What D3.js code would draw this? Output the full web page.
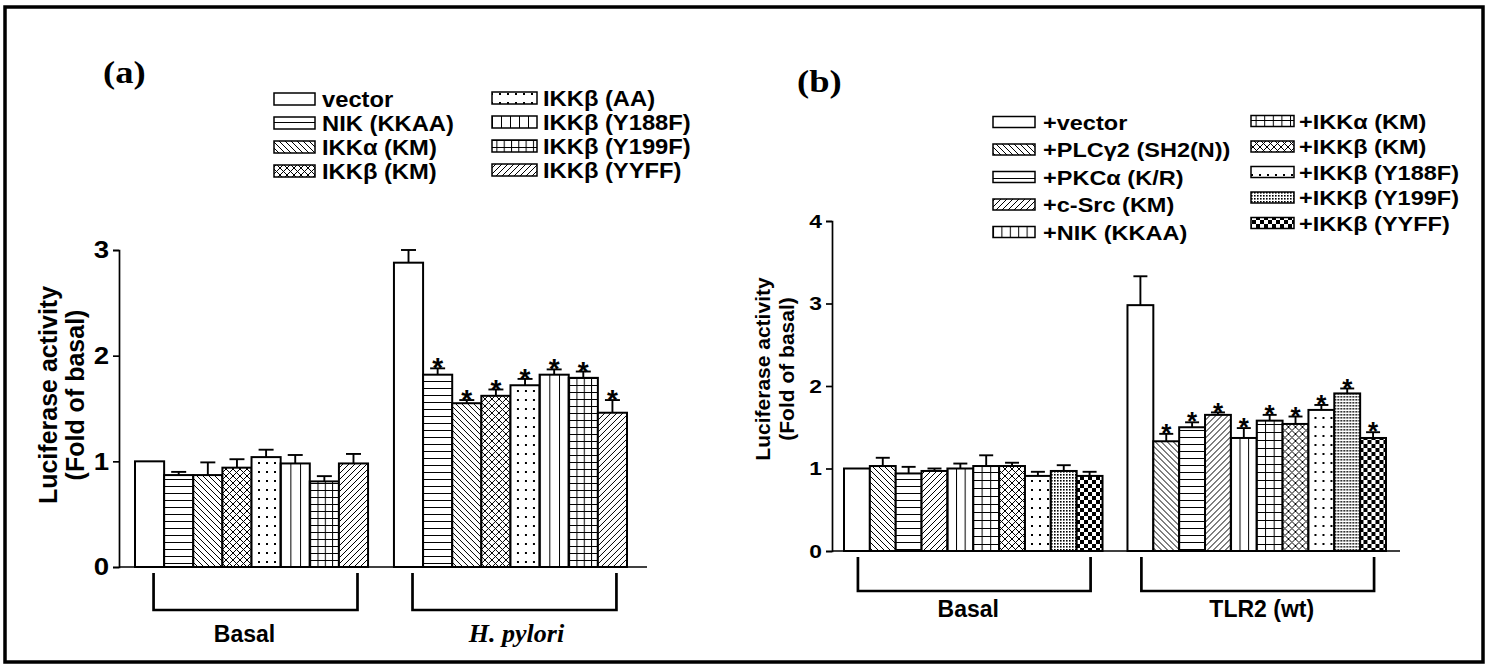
<!DOCTYPE html>
<html>
<head>
<meta charset="utf-8">
<script src="https://cdn.jsdelivr.net/npm/d3@7"></script>
<style>
  body { margin: 0; background: #fff; }
  svg { display: block; }
  text { font-family: "Liberation Sans", Arial, sans-serif; font-weight: bold; fill: #000; }
</style>
</head>
<body>
<svg id="fig" width="1490" height="668"></svg>
<script>
// ---- panel (a) data ----
const groupsA = ['Basal', 'H. pylori'];
const seriesA = ['vector', 'NIK (KKAA)', 'IKKα (KM)', 'IKKβ (KM)', 'IKKβ (AA)', 'IKKβ (Y188F)', 'IKKβ (Y199F)', 'IKKβ (YYFF)'];
const basalA = [1.00, 0.87, 0.87, 0.94, 1.04, 0.98, 0.81, 0.98];
const basalAErr = [0.00, 0.03, 0.12, 0.08, 0.07, 0.08, 0.05, 0.09];
const pyloriA = [2.88, 1.82, 1.55, 1.62, 1.72, 1.82, 1.79, 1.46];
const pyloriAErr = [0.12, 0.06, 0.03, 0.06, 0.06, 0.05, 0.06, 0.12];
const starsA = [[], [1, 2, 3, 4, 5, 6, 7]];
const ticksA = [0, 1, 2, 3];

// ---- panel (b) data ----
const groupsB = ['Basal', 'TLR2 (wt)'];
const seriesB = ['+vector', '+PLCγ2 (SH2(N))', '+PKCα (K/R)', '+c-Src (KM)', '+NIK (KKAA)', '+IKKα (KM)', '+IKKβ (KM)', '+IKKβ (Y188F)', '+IKKβ (Y199F)', '+IKKβ (YYFF)'];
const basalB = [1.00, 1.03, 0.94, 0.97, 1.00, 1.03, 1.03, 0.91, 0.97, 0.91];
const basalBErr = [0.00, 0.10, 0.08, 0.03, 0.06, 0.13, 0.04, 0.05, 0.07, 0.05];
const tlr2B = [2.98, 1.33, 1.50, 1.65, 1.37, 1.58, 1.54, 1.71, 1.91, 1.37];
const tlr2BErr = [0.35, 0.09, 0.06, 0.03, 0.12, 0.07, 0.09, 0.06, 0.06, 0.07];
const starsB = [[], [1, 2, 3, 4, 5, 6, 7, 8, 9]];
const ticksB = [0, 1, 2, 3, 4];

// fill styles per series
const fillsA = ['none', 'hlines', 'bdiag', 'cross', 'dots', 'vlines', 'grid', 'fdiag'];
const fillsB = ['none', 'bdiag', 'hlines', 'fdiag', 'vlines', 'grid8', 'cross', 'dots', 'fine', 'checker'];

const svg = d3.select('#fig');
const defs = svg.append('defs');

// pattern helper
function pattern(id, w, h, draw, bbox) {
    const p = defs.append('pattern')
        .attr('id', id)
        .attr('patternUnits', bbox ? 'objectBoundingBox' : 'userSpaceOnUse')
        .attr('width', w)
        .attr('height', h);
    p.append('rect').attr('width', 1000).attr('height', 1000).attr('fill', '#fff');
    draw(p);
}
const ln = (p, d, sw) => p.append('path').attr('d', d).attr('stroke', '#000').attr('stroke-width', sw || 1).attr('fill', 'none');

pattern('hlines', 7, 7, p => ln(p, 'M0,3.5H7'));
pattern('bdiag', 6, 6, p => ln(p, 'M0,0L6,6M-1,5L1,7M5,-1L7,1'));
pattern('fdiag', 6, 6, p => ln(p, 'M0,6L6,0M-1,1L1,-1M5,7L7,5'));
pattern('cross', 7, 7, p => ln(p, 'M0,0L7,7M-1,6L1,8M6,-1L8,1M0,7L7,0M-1,1L1,-1M6,8L8,6'));
pattern('dots', 8, 9, p => p.append('rect').attr('x', 3).attr('y', 3).attr('width', 2).attr('height', 2).attr('fill', '#000'));
pattern('grid', 7.3, 7, p => ln(p, 'M0.5,0V7M0,0.5H7.3'));
pattern('grid8', 8.6, 8, p => ln(p, 'M0.5,0V8M0,0.5H8.6'));
pattern('fine', 3, 3, p => p.append('rect').attr('width', 1.6).attr('height', 1.6).attr('fill', '#000'));
pattern('checker', 8, 8, p => {
    p.append('rect').attr('width', 4).attr('height', 4).attr('fill', '#000');
    p.append('rect').attr('x', 4).attr('y', 4).attr('width', 4).attr('height', 4).attr('fill', '#000');
});
pattern('vlines', 1 / 3, 1, p => ln(p, 'M0.5,0V1000'), true);
pattern('vlinesL', 1 / 5, 1, p => ln(p, 'M0.5,0V1000'), true);

const fillOf = (k, legend) => k === 'none' ? '#fff' : 'url(#' + (legend && k === 'vlines' ? 'vlinesL' : k) + ')';

// text helper (sx stretches horizontally like the scanned figure)
function txt(x, y, s, size, opt) {
    opt = opt || {};
    const t = svg.append('text')
        .attr('transform', opt.rot ? `translate(${x},${y}) rotate(${opt.rot})`
            : `translate(${x},${y}) scale(${opt.sx || 1},1)`)
        .attr('font-size', size)
        .attr('text-anchor', opt.anchor || 'start')
        .text(s);
    if (opt.dy) t.attr('dy', opt.dy);
    if (opt.family) t.style('font-family', opt.family);
    if (opt.italic) t.style('font-style', 'italic');
    return t;
}

// outer frame
svg.append('rect').attr('x', 5).attr('y', 7).attr('width', 1478).attr('height', 655)
    .attr('fill', 'none').attr('stroke', '#000').attr('stroke-width', 3.5);

function drawPanel(cfg) {
    const y = d3.scaleLinear().domain([0, cfg.ticks[cfg.ticks.length - 1]]).range([cfg.y0, cfg.yTop]);
    const xg = d3.scaleBand().domain(cfg.groups).range(cfg.barsX).paddingInner(cfg.pad);
    const xs = d3.scaleBand().domain(d3.range(cfg.series.length)).range([0, xg.bandwidth()]);

    // y axis
    const ax = svg.append('g')
        .attr('transform', `translate(${cfg.yX},0)`)
        .call(d3.axisLeft(y).tickValues(cfg.ticks).tickSizeOuter(0).tickSize(6).tickPadding(4).tickFormat(d3.format('d')));
    ax.select('.domain').attr('stroke-width', 1.7);
    ax.selectAll('.tick line').attr('stroke-width', 1.7);
    ax.selectAll('text')
        .attr('font-size', cfg.tickFont)
        .style('font-family', '"Liberation Sans", Arial, sans-serif')
        .style('font-weight', 'bold')
        .attr('x', -10 / cfg.tickSx)
        .attr('transform', `scale(${cfg.tickSx},1)`);

    // bars
    cfg.groups.forEach((gName, gi) => {
        const vals = cfg.values[gi], errs = cfg.errors[gi];
        const g = svg.append('g').attr('transform', `translate(${xg(gName)},0)`);
        g.selectAll('rect.bar').data(vals).join('rect')
            .attr('class', 'bar')
            .attr('x', (d, i) => xs(i))
            .attr('y', d => y(d))
            .attr('width', xs.bandwidth())
            .attr('height', d => y(0) - y(d))
            .attr('fill', (d, i) => fillOf(cfg.fills[i]))
            .attr('stroke', '#000')
            .attr('stroke-width', 2);
        // error bars (upper only)
        const eb = g.selectAll('g.err').data(vals.map((v, i) => ({ v, e: errs[i], i })).filter(d => d.e > 0)).join('g');
        eb.append('line')
            .attr('x1', d => xs(d.i) + xs.bandwidth() / 2).attr('x2', d => xs(d.i) + xs.bandwidth() / 2)
            .attr('y1', d => y(d.v)).attr('y2', d => y(d.v + d.e))
            .attr('stroke', '#000').attr('stroke-width', 1.9);
        eb.append('line')
            .attr('x1', d => xs(d.i) + xs.bandwidth() / 2 - cfg.capW / 2)
            .attr('x2', d => xs(d.i) + xs.bandwidth() / 2 + cfg.capW / 2)
            .attr('y1', d => y(d.v + d.e)).attr('y2', d => y(d.v + d.e))
            .attr('stroke', '#000').attr('stroke-width', 1.9);
        // significance stars
        g.selectAll('text.star').data(cfg.stars[gi]).join('text')
            .attr('class', 'star')
            .attr('x', i => xs(i) + xs.bandwidth() / 2)
            .attr('y', i => y(vals[i] + errs[i]) - 3 + 0.43 * cfg.starFont)
            .attr('text-anchor', 'middle')
            .attr('font-size', cfg.starFont)
            .text('*');

        // bracket + group label
        const c0 = xg(gName) + xs(0) + xs.bandwidth() / 2 + cfg.bracketOff;
        const c1 = xg(gName) + xs(vals.length - 1) + xs.bandwidth() / 2 + cfg.bracketOff;
        svg.append('path')
            .attr('d', `M${c0},${cfg.bracketTop}V${cfg.bracketBot}H${c1}V${cfg.bracketTop}`)
            .attr('fill', 'none').attr('stroke', '#000').attr('stroke-width', 2.7);
        const lab = cfg.labels[gi];
        txt((c0 + c1) / 2 + lab.dx, cfg.labelY, gName, lab.size, { anchor: 'middle', family: lab.family, italic: lab.italic });
    });

    // x axis baseline
    svg.append('line')
        .attr('x1', cfg.yX).attr('x2', cfg.barsX[1] + cfg.axisExtra)
        .attr('y1', y(0)).attr('y2', y(0))
        .attr('stroke', '#000').attr('stroke-width', 1.7);

    // y label
    txt(cfg.ylabX[0], cfg.ylabY, 'Luciferase activity', cfg.ylabFont, { rot: -90, anchor: 'middle', dy: '0.35em' });
    txt(cfg.ylabX[1], cfg.ylabY, '(Fold of basal)', cfg.ylabFont, { rot: -90, anchor: 'middle', dy: '0.35em' });

    // panel letter
    txt(cfg.title.x, cfg.title.y, cfg.title.text, 31, { sx: 1.18, family: '"Liberation Serif", "Times New Roman", serif' });

    // legend
    cfg.legendCols.forEach(col => {
        col.items.forEach((idx, r) => {
            const cy = col.y0 + r * col.step;
            svg.append('rect')
                .attr('x', col.x).attr('y', cy - col.h / 2)
                .attr('width', col.w).attr('height', col.h)
                .attr('fill', fillOf(cfg.fills[idx], true))
                .attr('stroke', '#000').attr('stroke-width', 1.5);
            txt(col.tx, cy + cfg.legendFont * 0.36, cfg.series[idx], cfg.legendFont, { sx: cfg.legendSx });
        });
    });
}

drawPanel({
    groups: groupsA, series: seriesA, values: [basalA, pyloriA], errors: [basalAErr, pyloriAErr],
    stars: starsA, fills: fillsA, ticks: ticksA,
    yX: 119, y0: 567, yTop: 250, barsX: [135, 627], pad: 0.1, axisExtra: 20,
    tickFont: 24, tickSx: 1.15, capW: 15, starFont: 28,
    bracketTop: 573, bracketBot: 610, bracketOff: 4, labelY: 642,
    labels: [{ size: 23, dx: -11 }, { size: 26, dx: 2, italic: true, family: '"Liberation Serif", "Times New Roman", serif' }],
    ylabX: [48, 75], ylabY: 395, ylabFont: 25,
    title: { x: 103, y: 83, text: '(a)' },
    legendFont: 22, legendSx: 1.08,
    legendCols: [
        { items: [0, 1, 2, 3], x: 274, w: 41, h: 12, y0: 99, step: 24, tx: 322 },
        { items: [4, 5, 6, 7], x: 492, w: 45, h: 12, y0: 98, step: 24, tx: 543 }
    ]
});

drawPanel({
    groups: groupsB, series: seriesB, values: [basalB, tlr2B], errors: [basalBErr, tlr2BErr],
    stars: starsB, fills: fillsB, ticks: ticksB,
    yX: 832, y0: 551, yTop: 221, barsX: [844, 1386], pad: 0.088, axisExtra: 14,
    tickFont: 19, tickSx: 1.2, capW: 14, starFont: 26,
    bracketTop: 557, bracketBot: 591, bracketOff: 1, labelY: 617,
    labels: [{ size: 23, dx: -6 }, { size: 23, dx: 4 }],
    ylabX: [763, 787], ylabY: 369, ylabFont: 21,
    title: { x: 797, y: 92, text: '(b)' },
    legendFont: 21, legendSx: 1.12,
    legendCols: [
        { items: [0, 1, 2, 3, 4], x: 993, w: 42, h: 11, y0: 122, step: 27.5, tx: 1043 },
        { items: [5, 6, 7, 8, 9], x: 1251, w: 43, h: 11, y0: 121, step: 25.5, tx: 1299 }
    ]
});
</script>
</body>
</html>
